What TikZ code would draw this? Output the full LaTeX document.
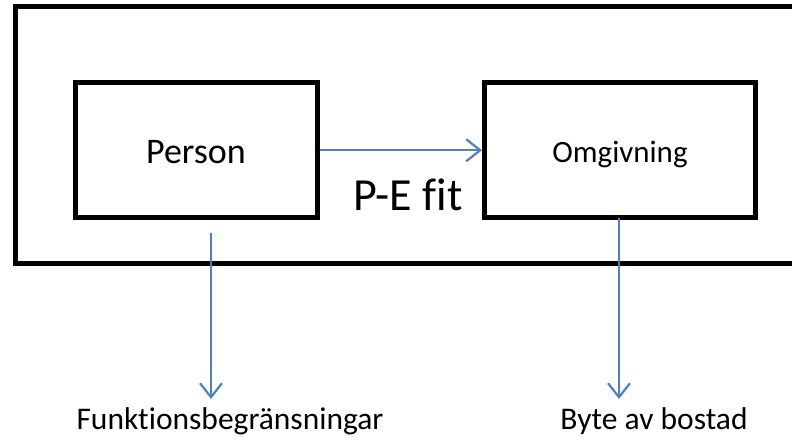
\documentclass[tikz,border=0pt]{standalone}
\usepackage{fontspec}
\setmainfont{Carlito}[Ligatures={NoCommon}]
\usetikzlibrary{arrows.meta}
\definecolor{arrowblue}{HTML}{4F81BD}
\tikzset{
  box/.style={draw=black, line width=5pt, minimum width=242pt, minimum height=135.5pt, inner sep=0pt},
  link/.style={draw=arrowblue, line width=2.2pt, -{Straight Barb[length=14pt,width=22pt,line width=2.2pt]}},
  lbl/.style={inner sep=0pt, anchor=center}
}
\begin{document}
\begin{tikzpicture}[x=1pt,y=1pt]
\useasboundingbox (0,0) rectangle (792,-443);
% outer frame
\draw[line width=5pt] (805,-7) -- (15.5,-7) -- (15.5,-263.5) -- (805,-263.5);
% boxes
\node[box] (person) at (196.25,-150.25) {};
\node[box, minimum width=271pt] (omg) at (620,-150.25) {};
\node[lbl, font=\fontsize{36}{40}\selectfont] (ptext) at (196,-152) {Person};
\node[lbl, font=\fontsize{31}{36}\selectfont] (otext) at (620,-155) {Omgivning};
\node[lbl, font=\fontsize{46}{52}\selectfont] (pe) at (408,-195) {P-E fit};
\node[lbl, font=\fontsize{31.5}{36}\selectfont] (funk) at (230,-421) {Funktionsbegränsningar};
\node[lbl, font=\fontsize{31.5}{36}\selectfont] (byte) at (654,-421) {Byte av bostad};
% connector endpoints
\coordinate (ps) at (211,-233);
\coordinate (pe2) at (211,-399);
\coordinate (os) at (619,-218);
\coordinate (oe) at (619,-399);
\draw[link] (person.east) -- (omg.west);
\draw[link] (ps) -- (pe2);
\draw[link] (os) -- (oe);
\end{tikzpicture}
\end{document}
